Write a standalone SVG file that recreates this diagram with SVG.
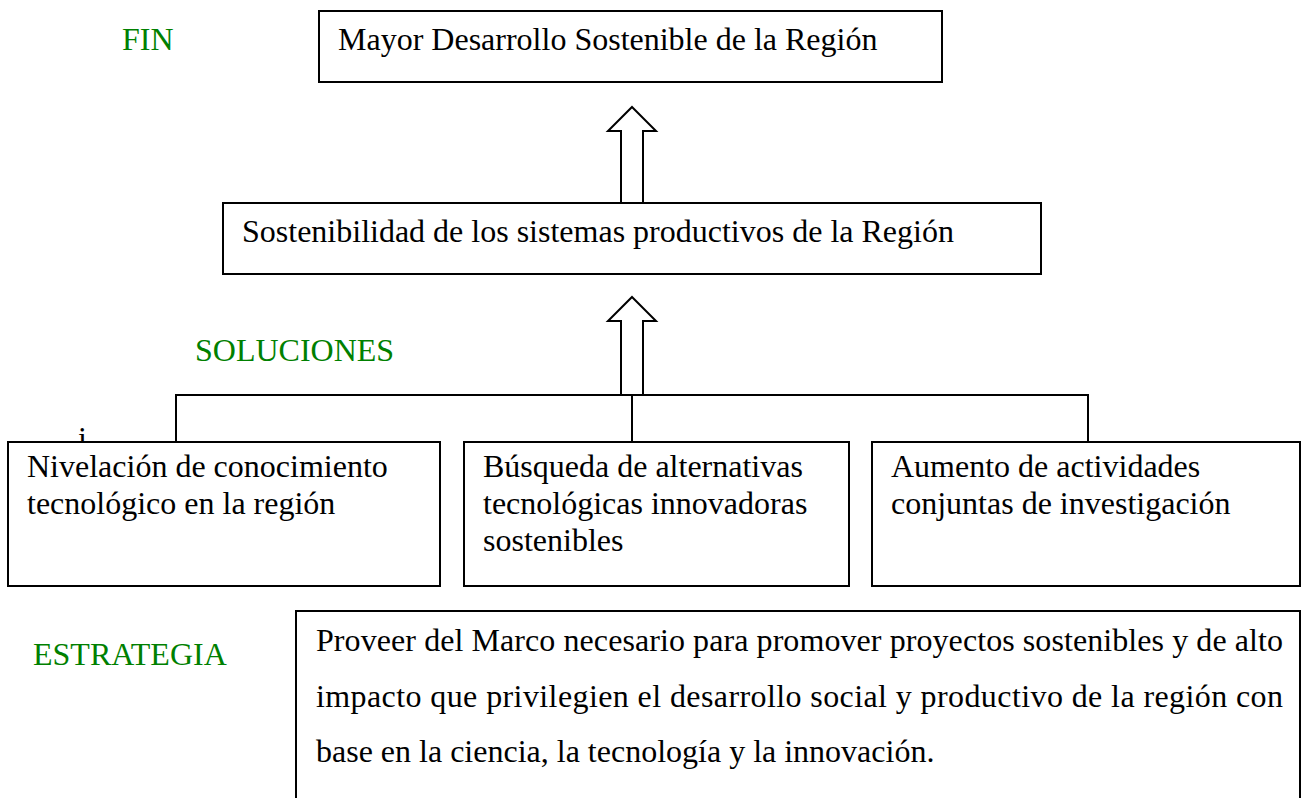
<svg xmlns="http://www.w3.org/2000/svg" width="1306" height="798" viewBox="0 0 1306 798">
<style>
.box{fill:#fff;stroke:#000;stroke-width:2}
.t{font-family:"Liberation Serif","Times New Roman",serif;font-size:32px;fill:#000}
.g{font-family:"Liberation Serif","Times New Roman",serif;font-size:32px;fill:#008000}
.ln{fill:none;stroke:#000;stroke-width:2}
.arr{fill:#fff;stroke:#000;stroke-width:2;stroke-linejoin:miter}
</style>
<rect width="1306" height="798" fill="#fff"/>
<g id="labels">
<text class="g" x="122" y="50">FIN</text>
<text class="g" x="195" y="361">SOLUCIONES</text>
<text class="g" x="33" y="665">ESTRATEGIA</text>
<text class="t" x="78" y="449">i</text>
</g>
<g id="connectors">
<polyline class="ln" points="176,442 176,395 1088,395 1088,442"/>
<line class="ln" x1="632" y1="395" x2="632" y2="442"/>
<polygon class="arr" points="632,107 656,131 643,131 643,203 621,203 621,131 608,131"/>
<polygon class="arr" points="632,297 656,321 643,321 643,395 621,395 621,321 608,321"/>
</g>
<g id="fin">
<rect class="box" x="319" y="11" width="623" height="71"/>
<text class="t" x="338" y="50">Mayor Desarrollo Sostenible de la Región</text>
</g>
<g id="proposito">
<rect class="box" x="223" y="203" width="818" height="71"/>
<text class="t" x="242" y="242">Sostenibilidad de los sistemas productivos de la Región</text>
</g>
<g id="sol1">
<rect class="box" x="8" y="442" width="432" height="144"/>
<text class="t" x="27" y="477">Nivelación de conocimiento</text>
<text class="t" x="27" y="514">tecnológico en la región</text>
</g>
<g id="sol2">
<rect class="box" x="464" y="442" width="385" height="144"/>
<text class="t" x="483" y="477">Búsqueda de alternativas</text>
<text class="t" x="483" y="514">tecnológicas innovadoras</text>
<text class="t" x="483" y="551">sostenibles</text>
</g>
<g id="sol3">
<rect class="box" x="872" y="442" width="428" height="144"/>
<text class="t" x="891" y="477">Aumento de actividades</text>
<text class="t" x="891" y="514">conjuntas de investigación</text>
</g>
<g id="estrategia">
<rect class="box" x="296" y="611" width="1004" height="220"/>
<text class="t" x="316" y="651" textLength="967" lengthAdjust="spacing">Proveer del Marco necesario para promover proyectos sostenibles y de alto</text>
<text class="t" x="316" y="707" textLength="967" lengthAdjust="spacing">impacto que privilegien el desarrollo social y productivo de la región con</text>
<text class="t" x="316" y="762">base en la ciencia, la tecnología y la innovación.</text>
</g>
</svg>
